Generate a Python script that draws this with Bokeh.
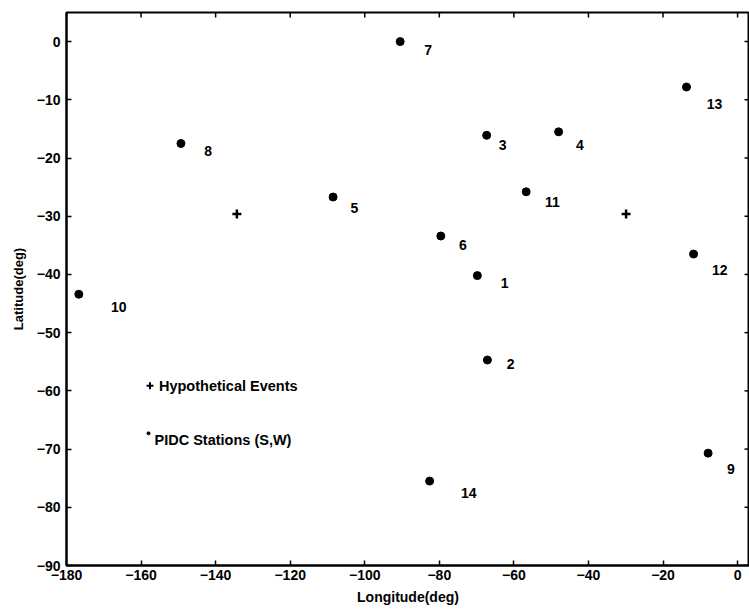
import math
from bokeh.plotting import figure
from bokeh.models import LinearAxis, FixedTicker, Range1d
from bokeh.core.properties import value
from bokeh.embed import file_html
from bokeh.resources import INLINE

# PIDC stations (lon, lat) and their number labels
station_id = ["1", "2", "3", "4", "5", "6", "7", "8", "9", "10", "11", "12", "13", "14"]
station_lon = [-69.8, -67.1, -67.3, -48.0, -108.5, -79.6, -90.5, -149.3, -7.9, -176.7, -56.7, -11.8, -13.7, -82.6]
station_lat = [-40.2, -54.7, -16.1, -15.5, -26.7, -33.4, 0.0, -17.5, -70.7, -43.4, -25.8, -36.5, -7.8, -75.5]
label_lon = [-62.5, -60.9, -63.0, -42.3, -102.8, -73.7, -83.0, -142.0, -1.8, -166.0, -49.7, -4.8, -6.2, -72.1]
label_lat = [-41.5, -55.4, -17.8, -17.8, -28.5, -34.9, -1.4, -18.8, -73.4, -45.6, -27.5, -39.2, -10.7, -77.5]

# Hypothetical events
event_lon = [-134.3, -29.9]
event_lat = [-29.6, -29.6]

# In-plot legend (data coordinates)
legend_event_marker = (-157.6, -59.1)
legend_event_text = (-155.2, -59.1, "Hypothetical Events")
legend_station_marker = (-158.0, -67.3)
legend_station_text = (-156.4, -68.4, "PIDC Stations (S,W)")

x_ticks = [-180, -160, -140, -120, -100, -80, -60, -40, -20, 0]
y_ticks = [-90, -80, -70, -60, -50, -40, -30, -20, -10, 0]
x_limits = (-180, 3.2)
y_limits = (-90, 5)

FONT = "Liberation Sans"

p = figure(width=749, height=610, output_backend="svg", toolbar_location=None,
           x_range=Range1d(*x_limits), y_range=Range1d(*y_limits),
           x_axis_location=None, y_axis_location=None,
           min_border_left=66, min_border_right=0, min_border_top=12, min_border_bottom=45)
p.grid.visible = False
p.outline_line_color = "black"
p.outline_line_width = 2
p.background_fill_color = "white"
p.border_fill_color = "white"


def style_axis(ax):
    ax.axis_line_color = "black"
    ax.axis_line_width = 2
    ax.major_tick_line_color = "black"
    ax.major_tick_line_width = 1.5
    ax.major_tick_in = 5
    ax.major_tick_out = 0
    ax.minor_tick_line_color = None
    ax.major_label_text_font = FONT
    ax.major_label_text_font_style = "bold"
    ax.major_label_text_font_size = "14px"
    ax.major_label_text_color = "black"
    ax.axis_label_text_font = FONT
    ax.axis_label_text_font_style = "bold"
    ax.axis_label_text_color = "black"


xb = LinearAxis(ticker=FixedTicker(ticks=x_ticks), axis_label="Longitude(deg)")
style_axis(xb)
xb.axis_label_text_font_size = "14px"
xb.major_label_standoff = 4
xb.axis_label_standoff = 6
p.add_layout(xb, "below")

yl = LinearAxis(ticker=FixedTicker(ticks=y_ticks), axis_label="Latitude(deg)")
style_axis(yl)
yl.axis_label_text_font_size = "13px"
yl.major_label_standoff = 6
yl.axis_label_standoff = 8
p.add_layout(yl, "left")

# inward tick marks on the top and right edges of the box
p.ray(x=x_ticks, y=[y_limits[1]] * len(x_ticks), length=5, length_units="screen",
      angle=-math.pi / 2, line_color="black", line_width=1.5)
p.ray(x=[x_limits[1]] * len(y_ticks), y=y_ticks, length=5, length_units="screen",
      angle=math.pi, line_color="black", line_width=1.5)

# stations
p.scatter(station_lon, station_lat, marker="circle", size=8, fill_color="black", line_color="black")
p.text(label_lon, label_lat, text=station_id, text_font=value(FONT), text_font_style="bold",
       text_font_size="14px", text_align="center", text_baseline="middle", text_color="black")

# hypothetical events
p.scatter(event_lon, event_lat, marker="cross", size=9, line_width=2.5, line_color="black")

# legend texts
p.scatter([legend_event_marker[0]], [legend_event_marker[1]], marker="cross", size=7, line_width=2,
          line_color="black")
p.scatter([legend_station_marker[0]], [legend_station_marker[1]], marker="circle", size=3,
          fill_color="black", line_color="black")
p.text([legend_event_text[0], legend_station_text[0]], [legend_event_text[1], legend_station_text[1]],
       text=[legend_event_text[2], legend_station_text[2]], text_font=value(FONT),
       text_font_style="bold", text_font_size="14.5px", text_align="left", text_baseline="middle",
       text_color="black")

open("out.html", "w").write(file_html(p, INLINE))
